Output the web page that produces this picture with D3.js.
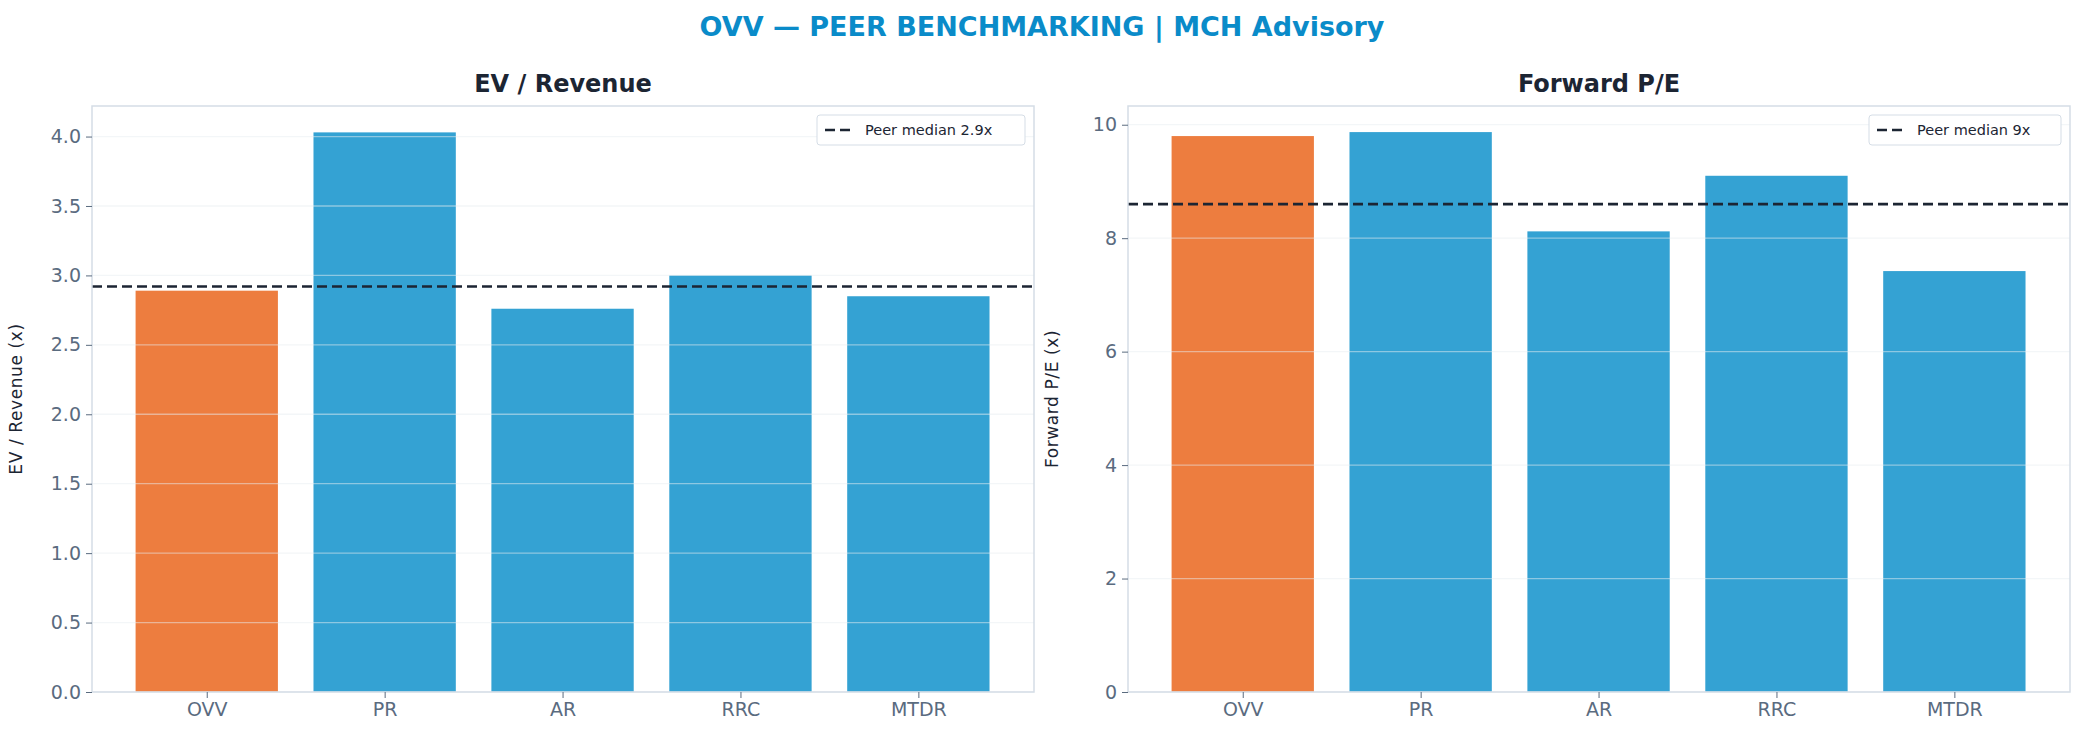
<!DOCTYPE html>
<html><head><meta charset="utf-8">
<script src="https://cdn.jsdelivr.net/npm/d3@7"></script>
<style>body{margin:0;background:#fff}svg{font-family:"DejaVu Sans",sans-serif}</style>
</head><body><svg id="chart" width="2084" height="742"></svg>
<script>
const tickers = ['OVV', 'PR', 'AR', 'RRC', 'MTDR']
const evRevenue = [2.89, 4.03, 2.76, 3.00, 2.85]
const evMedian = 2.92
const fwdPE = [9.80, 9.87, 8.12, 9.10, 7.42]
const peMedian = 8.6
const evTicks = [0, 0.5, 1, 1.5, 2, 2.5, 3, 3.5, 4]
const peTicks = [0, 2, 4, 6, 8, 10]

const svg = d3.select('#chart')
svg.append('text').attr('x', 1042).attr('y', 36).attr('text-anchor', 'middle')
    .attr('font-size', 27).attr('font-weight', 'bold').attr('fill', '#0a8bc9')
    .text('OVV — PEER BENCHMARKING | MCH Advisory')

function panel(opt) {
    const { x0, x1, y0, y1 } = opt
    const g = svg.append('g')
    const x = d3.scaleLinear().domain([-0.645, 4.65]).range([x0, x1])
    const y = d3.scaleLinear().domain([0, opt.ymax]).range([y1, y0])
    const bw = x(0.8) - x(0)

    g.selectAll('rect.bar').data(opt.values).enter().append('rect')
        .attr('x', (d, i) => x(i - 0.4)).attr('width', bw)
        .attr('y', d => y(d)).attr('height', d => y1 - y(d))
        .attr('fill', (d, i) => i === 0 ? '#ed7d3f' : '#34a2d3')

    // grid on top
    g.selectAll('line.grid').data(opt.ticks).enter().append('line')
        .attr('x1', x0).attr('x2', x1).attr('y1', d => y(d)).attr('y2', d => y(d))
        .attr('stroke', '#e8edf2').attr('stroke-opacity', 0.5).attr('stroke-width', 1.3)

    g.append('line').attr('x1', x0).attr('x2', x1)
        .attr('y1', y(opt.median)).attr('y2', y(opt.median))
        .attr('stroke', '#1c2533').attr('stroke-width', 2.6).attr('stroke-dasharray', '10,5')

    g.append('rect').attr('x', x0).attr('y', y0).attr('width', x1 - x0).attr('height', y1 - y0)
        .attr('fill', 'none').attr('stroke', '#d5dde6').attr('stroke-width', 1.5)

    const yAxis = g.append('g').attr('transform', `translate(${x0},0)`)
        .call(d3.axisLeft(y).tickValues(opt.ticks).tickFormat(opt.fmt).tickSize(6).tickPadding(5))
    const xAxis = g.append('g').attr('transform', `translate(0,${y1})`)
        .call(d3.axisBottom(x).tickValues(d3.range(5)).tickFormat(i => tickers[i]).tickSize(6).tickPadding(5))
    for (const a of [yAxis, xAxis]) {
        a.select('.domain').remove()
        a.selectAll('line').attr('stroke', '#5a6b7f')
        a.selectAll('text').attr('font-size', 19).attr('fill', '#5a6b7f').attr('font-family', '"DejaVu Sans",sans-serif')
    }

    g.append('text').attr('x', (x0 + x1) / 2).attr('y', 92).attr('text-anchor', 'middle')
        .attr('font-size', 24).attr('font-weight', 'bold').attr('fill', '#1c2533').text(opt.title)
    g.append('text').attr('transform', `translate(${x0 - 70},${(y0 + y1) / 2}) rotate(-90)`)
        .attr('text-anchor', 'middle').attr('font-size', 17).attr('letter-spacing', 0.6)
        .attr('fill', '#1c2533').text(opt.ylabel)

    // legend
    const lw = opt.legendW
    const lx = x1 - 9 - lw, ly = y0 + 9
    g.append('rect').attr('x', lx).attr('y', ly).attr('width', lw).attr('height', 30).attr('rx', 3)
        .attr('fill', '#fff').attr('stroke', '#d5dde6')
    g.append('line').attr('x1', lx + 8).attr('x2', lx + 38).attr('y1', ly + 15).attr('y2', ly + 15)
        .attr('stroke', '#1c2533').attr('stroke-width', 2.6).attr('stroke-dasharray', '10,5')
    g.append('text').attr('x', lx + 48).attr('y', ly + 20).attr('font-size', 14.5).attr('fill', '#1c2533')
        .text(opt.legend)
}

panel({ x0: 92, x1: 1034, y0: 106, y1: 692, ymax: 4.22, values: evRevenue, median: evMedian,
    ticks: evTicks, fmt: d3.format('.1f'), title: 'EV / Revenue', ylabel: 'EV / Revenue (x)',
    legend: 'Peer median 2.9x', legendW: 208 })
panel({ x0: 1128, x1: 2070, y0: 106, y1: 692, ymax: 10.33, values: fwdPE, median: peMedian,
    ticks: peTicks, fmt: d3.format('d'), title: 'Forward P/E', ylabel: 'Forward P/E (x)',
    legend: 'Peer median 9x', legendW: 192 })
</script></body></html>
